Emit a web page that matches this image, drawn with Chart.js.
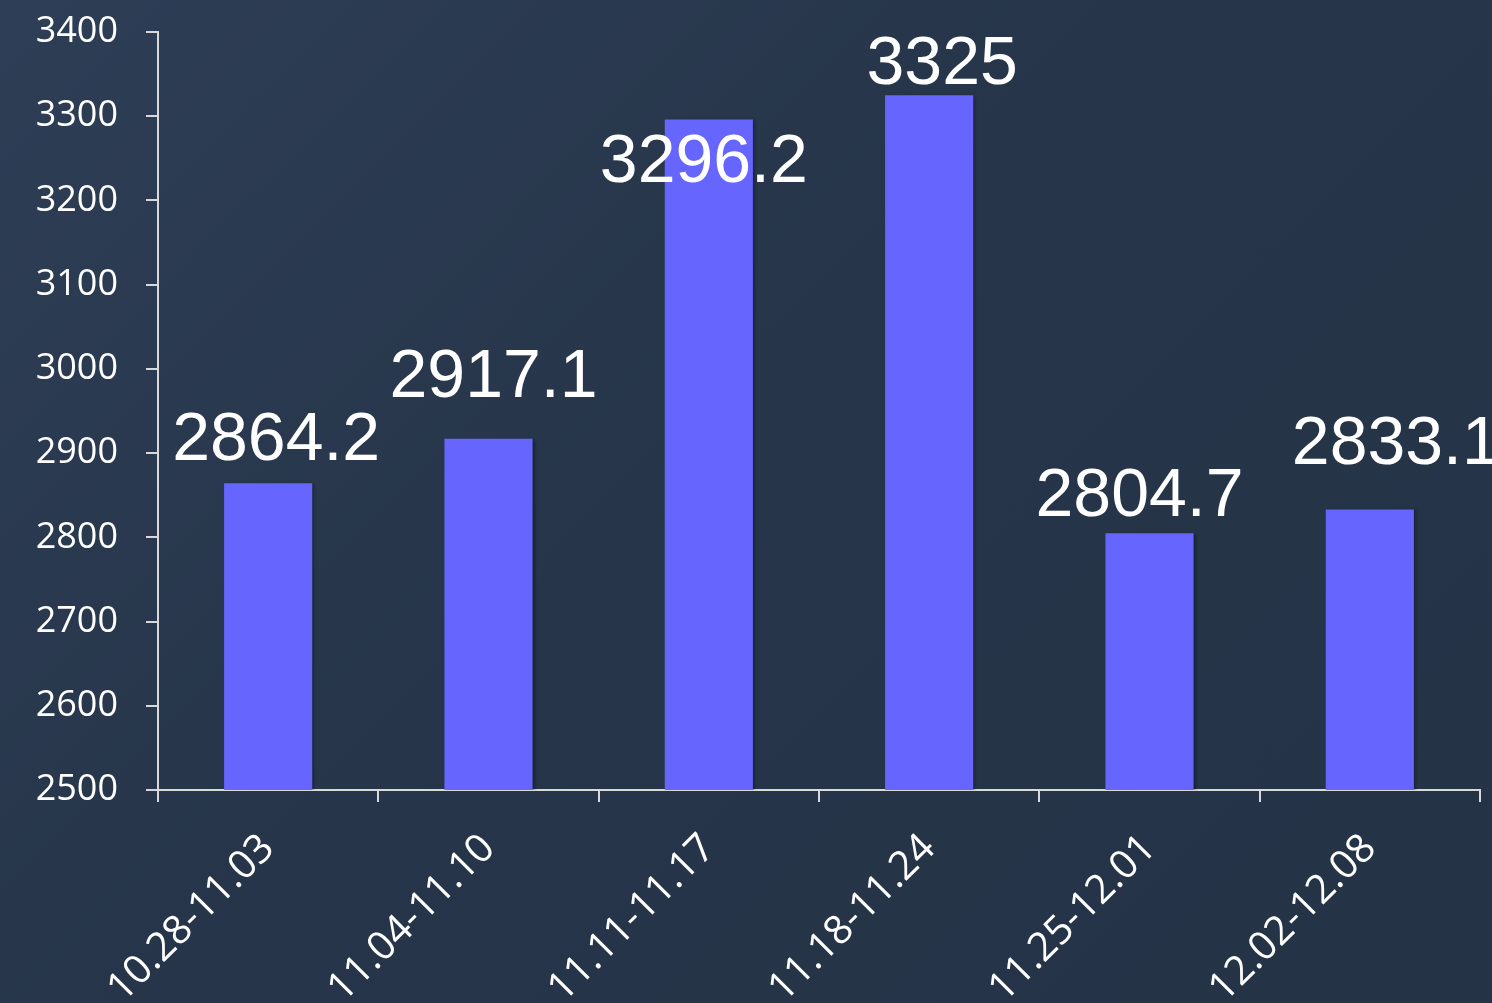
<!DOCTYPE html>
<html>
<head>
<meta charset="utf-8">
<script src="https://cdn.jsdelivr.net/npm/chart.js@4/dist/chart.umd.min.js"></script>
<style>
	html, body { margin: 0; padding: 0; }
	body {
		width: 1492px;
		height: 1003px;
		overflow: hidden;
		background: linear-gradient(135deg, #2e3e56 0%, #263549 45%, #243346 100%);
	}
	canvas { display: block; }
</style>
</head>
<body>
<canvas id="chart" width="1492" height="1003"></canvas>
<script>
var weeks = ['10.28-11.03', '11.04-11.10', '11.11-11.17', '11.18-11.24', '11.25-12.01', '12.02-12.08'];
var weeklyValues = [2864.2, 2917.1, 3296.2, 3325, 2804.7, 2833.1];
var yTicks = [2500, 2600, 2700, 2800, 2900, 3000, 3100, 3200, 3300, 3400];

// label nudges relative to the bar top (x shift, baseline shift)
var labelNudge = [[8, -23], [5, -42], [-5, 63], [13, -11], [-10, -17], [26, -45]];

var lineColor = '#d9d9d9';

var valueLabels = {
	id: 'valueLabels',
	beforeDatasetsDraw: function(chart) {
		// soft shadow on the bars, like the original
		var ctx = chart.ctx;
		ctx.save();
		ctx.shadowColor = 'rgba(0, 0, 0, 0.35)';
		ctx.shadowOffsetX = 2;
		ctx.shadowOffsetY = 1;
		ctx.shadowBlur = 3;
	},
	afterDatasetsDraw: function(chart) {
		var ctx = chart.ctx;
		ctx.restore();
		var meta = chart.getDatasetMeta(0);
		ctx.save();
		ctx.font = '68px "Liberation Sans", Arial, sans-serif';
		ctx.fillStyle = '#ffffff';
		ctx.textAlign = 'center';
		ctx.textBaseline = 'alphabetic';
		for (var i = 0; i < meta.data.length; i++) {
			var bar = meta.data[i];
			ctx.fillText(String(weeklyValues[i]), bar.x + labelNudge[i][0], bar.y + labelNudge[i][1]);
		}
		ctx.restore();
	}
};

var ctx = document.getElementById('chart').getContext('2d');
var myChart = new Chart(ctx, {
	type: 'bar',
	data: {
		labels: weeks,
		datasets: [{
			data: weeklyValues,
			backgroundColor: '#6666ff',
			borderWidth: 0,
			barPercentage: 0.4,
			categoryPercentage: 1
		}]
	},
	options: {
		responsive: false,
		animation: false,
		layout: { padding: { top: 32, right: 12, left: 0, bottom: 0 } },
		plugins: {
			legend: { display: false },
			tooltip: { enabled: false }
		},
		scales: {
			x: {
				grid: { offset: true, drawOnChartArea: false, drawTicks: true, tickLength: 12, color: lineColor, lineWidth: 2 },
				border: { color: lineColor, width: 2 },
				ticks: {
					color: '#ffffff',
					font: { family: '"Open Sans"', size: 40 },
					minRotation: 45,
					maxRotation: 45,
					padding: 23
				},
				afterFit: function(axis) { axis.height = 213; }
			},
			y: {
				min: 2500,
				max: 3400,
				afterBuildTicks: function(axis) {
					axis.ticks = yTicks.map(function(v) { return { value: v }; });
				},
				grid: { drawOnChartArea: false, drawTicks: true, tickLength: 12, color: lineColor, lineWidth: 2 },
				border: { color: lineColor, width: 2 },
				ticks: {
					color: '#ffffff',
					font: { family: '"Open Sans"', size: 36 },
					padding: 28,
					callback: function(value) { return String(value); }
				},
				afterFit: function(axis) {
					axis.width = 158;
					axis.paddingTop = 0;
					axis.paddingBottom = 0;
				}
			}
		}
	},
	plugins: [valueLabels]
});
</script>
</body>
</html>
